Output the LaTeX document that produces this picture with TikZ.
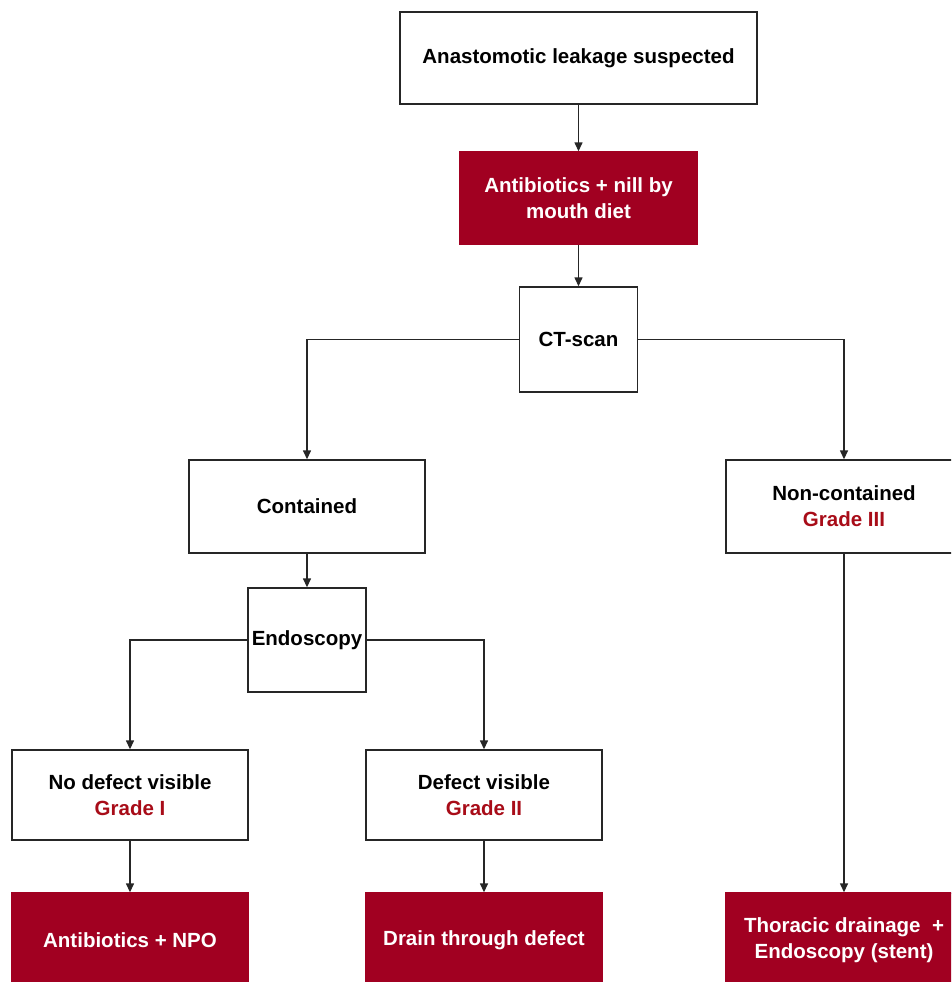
\documentclass[tikz,border=0pt]{standalone}
\usepackage{fontspec}
\setmainfont{Liberation Sans}
\usetikzlibrary{arrows.meta}
\definecolor{boxred}{RGB}{161,0,33}
\definecolor{gradered}{RGB}{168,12,24}
\begin{document}
\begin{tikzpicture}[x=1pt,y=-1pt,
  box/.style={draw=black!85, line width=1.4pt, fill=white, inner sep=0pt, align=center,
    font=\fontsize{20.5}{26}\selectfont\bfseries},
  redbox/.style={box, fill=boxred, draw=boxred, text=white},
  conn/.style={draw=black!85, line width=1.4pt, -{Triangle[length=9pt,width=8pt]}}]
\useasboundingbox (0,0) rectangle (951,982);
\clip (0,0) rectangle (951,982);
\fill[white] (0,0) rectangle (951,982);
\node[box, minimum width=357pt, minimum height=92pt] (top) at (578.5,58) {Anastomotic leakage suspected};
\node[redbox, minimum width=237pt, minimum height=92pt] (anti) at (578.5,198) {Antibiotics + nill by\\mouth diet};
\node[box, minimum width=118pt, minimum height=105pt] (ct) at (578.5,339.5) {CT-scan};
\node[box, minimum width=236pt, minimum height=93pt] (cont) at (307,506.5) {Contained};
\node[box, minimum width=236pt, minimum height=93pt] (noncont) at (844,506.5) {Non-contained\\{\color{gradered}Grade III}};
\node[box, minimum width=118pt, minimum height=104pt] (endo) at (307,640) {Endoscopy};
\node[box, minimum width=236pt, minimum height=90pt] (nodef) at (130,795) {No defect visible\\{\color{gradered}Grade I}};
\node[box, minimum width=236pt, minimum height=90pt] (def) at (484,795) {Defect visible\\{\color{gradered}Grade II}};
\node[redbox, minimum width=236pt, minimum height=94pt] (r1) at (130,940) {Antibiotics + NPO};
\node[redbox, minimum width=236pt, minimum height=94pt] (r2) at (484,940) {Drain through defect};
\node[redbox, minimum width=236pt, minimum height=94pt] (r3) at (844,940) {Thoracic drainage \ +\\Endoscopy (stent)};
\draw[conn] (top) -- (anti);
\draw[conn] (anti) -- (ct);
\draw[conn] (ct.west) -| (cont.north);
\draw[conn] (ct.east) -| (noncont.north);
\draw[conn] (cont) -- (endo);
\draw[conn] (endo.west) -| (nodef.north);
\draw[conn] (endo.east) -| (def.north);
\draw[conn] (nodef) -- (r1);
\draw[conn] (def) -- (r2);
\draw[conn] (noncont) -- (r3);
\end{tikzpicture}
\end{document}
